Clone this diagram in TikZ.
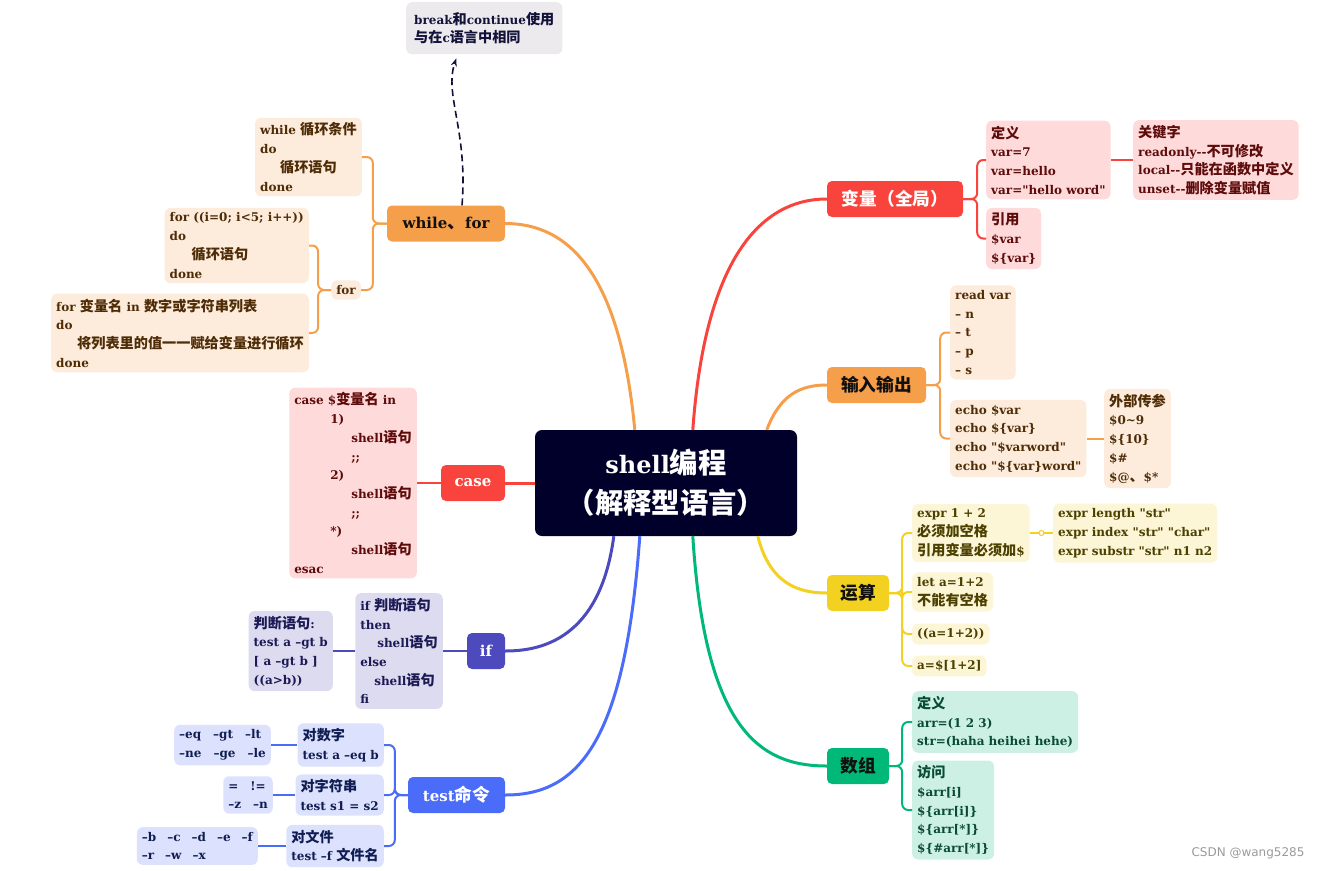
\documentclass[tikz,border=0pt]{standalone}
\usepackage{fontspec}
\setmainfont{DejaVu Serif}[Ligatures=TeXOff]
\newfontfamily\latinfont{DejaVu Serif}[Ligatures=TeXOff]
\newfontfamily\cjkfont{Noto Sans CJK SC}[Scale=1.18]
\newfontfamily\markfont{DejaVu Sans}
\usetikzlibrary{arrows.meta, calc}

% Chinese characters switch to the CJK font by themselves
\XeTeXinterchartokenstate=1
\newXeTeXintercharclass\cjkclass
\newcount\cjkcode
\cjkcode="4E00
\loop \XeTeXcharclass\cjkcode=\cjkclass \advance\cjkcode by 1 \ifnum\cjkcode<"A000 \repeat
\cjkcode="3000
\loop \XeTeXcharclass\cjkcode=\cjkclass \advance\cjkcode by 1 \ifnum\cjkcode<"3040 \repeat
\cjkcode="FF00
\loop \XeTeXcharclass\cjkcode=\cjkclass \advance\cjkcode by 1 \ifnum\cjkcode<"FFF0 \repeat
\XeTeXinterchartoks 0 \cjkclass = {\cjkfont}
\XeTeXinterchartoks 4095 \cjkclass = {\cjkfont}
\XeTeXinterchartoks \cjkclass 0 = {\latinfont}
\XeTeXinterchartoks \cjkclass 4095 = {\latinfont}

\definecolor{rootc}{HTML}{00002A}
\definecolor{orangec}{HTML}{F59F4A}
\definecolor{redc}{HTML}{F8443C}
\definecolor{purplec}{HTML}{4C4ABD}
\definecolor{bluec}{HTML}{4B6CF8}
\definecolor{yellowc}{HTML}{F2D120}
\definecolor{greenc}{HTML}{00B978}
\definecolor{orangel}{HTML}{FDEBDC}
\definecolor{redl}{HTML}{FFDADA}
\definecolor{purplel}{HTML}{DCDBF0}
\definecolor{bluel}{HTML}{DCE2FD}
\definecolor{yellowl}{HTML}{FCF5D6}
\definecolor{greenl}{HTML}{CCF1E4}
\definecolor{notel}{HTML}{ECEAED}
\definecolor{orangek}{HTML}{4E2C06}
\definecolor{redk}{HTML}{5E0B0B}
\definecolor{purplek}{HTML}{1C1A55}
\definecolor{bluek}{HTML}{101D52}
\definecolor{yellowk}{HTML}{4C4000}
\definecolor{greenk}{HTML}{0A4B35}
\definecolor{notek}{HTML}{12123A}
\definecolor{topick}{HTML}{111111}
\definecolor{markc}{HTML}{9A9A9A}

\tikzset{
  root/.style={fill=rootc, text=white, rounded corners=7, align=center,
    minimum width=262, minimum height=106, font=\fontsize{24}{40}\selectfont\bfseries},
  topic/.style={rounded corners=5, minimum height=36, inner xsep=0,
    font=\fontsize{15}{18}\selectfont\bfseries},
  leaf/.style={rounded corners=6, align=left, inner xsep=5, inner ysep=5,
    font=\fontsize{12}{18.7}\selectfont\bfseries},
  orangeleaf/.style={leaf, fill=orangel, text=orangek},
  redleaf/.style={leaf, fill=redl, text=redk},
  purpleleaf/.style={leaf, fill=purplel, text=purplek},
  blueleaf/.style={leaf, fill=bluel, text=bluek},
  yellowleaf/.style={leaf, fill=yellowl, text=yellowk},
  greenleaf/.style={leaf, fill=greenl, text=greenk},
  trunk/.style={line width=3},
  twig/.style={line width=2, rounded corners=6},
}

\begin{document}
\begin{tikzpicture}[x=1pt, y=-1pt]
\useasboundingbox (0,0) rectangle (1321,870);

% ---- centre
\node[root] (root) at (666,483) {shell编程\\（解释型语言）};

% ---- main topics
\node[topic, fill=orangec, text=topick, minimum width=118] (wfor) at (446,223.5) {while、for};
\node[topic, fill=redc, text=white, minimum width=64] (case) at (473,483) {case};
\node[topic, fill=purplec, text=white, minimum width=38] (if) at (486,651) {if};
\node[topic, fill=bluec, text=white, minimum width=97] (test) at (456.5,795) {test命令};
\node[topic, fill=redc, text=white, minimum width=136] (var) at (895,199) {变量（全局）};
\node[topic, fill=orangec, text=topick, minimum width=99] (io) at (876.5,385) {输入输出};
\node[topic, fill=yellowc, text=topick, minimum width=62] (calc) at (858,593) {运算};
\node[topic, fill=greenc, text=topick, minimum width=62] (arr) at (858,766) {数组};

\draw[trunk, orangec] ([xshift=100]root.north west) .. controls (620,275) and (570,223.5) .. (wfor.east);
\draw[trunk, redc] (root.west) -- (case.east);
\draw[trunk, purplec] ([xshift=79]root.south west) .. controls (600,640) and (540,651) .. (if.east);
\draw[trunk, bluec] ([xshift=105]root.south west) .. controls (625,740) and (580,795) .. (test.east);
\draw[trunk, redc] ([xshift=158]root.north west) .. controls (705,260) and (760,199) .. (var.west);
\draw[trunk, orangec] ([xshift=232]root.north west) .. controls (780,395) and (800,385) .. (io.west);
\draw[trunk, yellowc] ([xshift=223]root.south west) .. controls (770,585) and (800,593) .. (calc.west);
\draw[trunk, greenc] ([xshift=158]root.south west) .. controls (705,730) and (760,766) .. (arr.west);

% ============================================== while / for
\node[notek, fill=notel, rounded corners=6, align=left, anchor=north west, inner xsep=8,
      minimum height=52, font=\fontsize{12}{18.7}\selectfont\bfseries] (note) at (406,2)
  {break和continue使用\\与在c语言中相同};
\node[orangeleaf, anchor=east] (wwhile) at (362,157)
  {while 循环条件\\do\\\hspace*{20pt}循环语句\\done};
\node[orangeleaf, anchor=east] (wfork) at (361,290) {for};
\node[orangeleaf, anchor=east] (wfor1) at (309,245.5)
  {for ((i=0; i<5; i++))\\do\\\hspace*{22pt}循环语句\\done};
\node[orangeleaf, anchor=east] (wfor2) at (309,333)
  {for 变量名 in 数字或字符串列表\\do\\\hspace*{21pt}将列表里的值一一赋给变量进行循环\\done};
\foreach \c in {wwhile,wfork}
  \draw[twig, orangec] (wfor.west) -- ++(-14,0) |- (\c.east);
\foreach \c in {wfor1,wfor2}
  \draw[twig, orangec] (wfork.west) -- ++(-13,0) |- (\c.east);
\draw[notek, line width=1.6, dash pattern=on 7pt off 4pt, -{Stealth[length=8,width=6]}]
  ([xshift=16]wfor.north) .. controls (468,130) and (444,95) .. ([xshift=-28,yshift=-4]note.south);

% ============================================== case
\node[redleaf, anchor=east] (casebox) at (417,483)
  {case \$变量名 in\\\hspace*{36pt}1)\\\hspace*{57pt}shell语句\\\hspace*{57pt};;\\
   \hspace*{36pt}2)\\\hspace*{57pt}shell语句\\\hspace*{57pt};;\\
   \hspace*{36pt}*)\\\hspace*{57pt}shell语句\\esac};
\draw[twig, redc] (case.west) -- (casebox.east);

% ============================================== if
\node[purpleleaf, anchor=east] (ifbox) at (443,651)
  {if 判断语句\\then\\\hspace*{17pt}shell语句\\else\\\hspace*{14pt}shell语句\\fi};
\node[purpleleaf, anchor=east] (judge) at (333,651)
  {判断语句:\\test a \textendash gt b\\{[} a \textendash gt b ]\\((a>b))};
\draw[twig, purplec] (if.west) -- (ifbox.east);
\draw[twig, purplec] (ifbox.west) -- (judge.east);

% ============================================== test
\node[blueleaf, anchor=east] (tnum) at (384,745) {对数字\\test a \textendash eq b};
\node[blueleaf, anchor=east] (tstr) at (384,795) {对字符串\\test s1 = s2};
\node[blueleaf, anchor=east] (tfile) at (384,846) {对文件\\test \textendash f 文件名};
\node[blueleaf, anchor=east] (tnumop) at (271,745)
  {\textendash eq\hspace{12pt}\textendash gt\hspace{12pt}\textendash lt\\
   \textendash ne\hspace{12pt}\textendash ge\hspace{12pt}\textendash le};
\node[blueleaf, anchor=east] (tstrop) at (273,795) {=\hspace{12pt}!=\\\textendash z\hspace{12pt}\textendash n};
\node[blueleaf, anchor=east] (tfileop) at (258,846)
  {\textendash b\hspace{11pt}\textendash c\hspace{11pt}\textendash d\hspace{11pt}\textendash e\hspace{11pt}\textendash f\\
   \textendash r\hspace{11pt}\textendash w\hspace{11pt}\textendash x};
\foreach \c in {tnum,tstr,tfile}
  \draw[twig, bluec] (test.west) -- ++(-13,0) |- (\c.east);
\foreach \a/\b in {tnum/tnumop, tstr/tstrop, tfile/tfileop}
  \draw[twig, bluec] (\a.west) -- (\b.east);

% ============================================== variables
\node[redleaf, anchor=west] (vdef) at (986,160) {定义\\var=7\\var=hello\\var="hello word"};
\node[redleaf, anchor=west] (vref) at (986,238.5) {引用\\\$var\\\$\{var\}};
\node[redleaf, anchor=west] (vkey) at (1133,160)
  {关键字\\readonly-{}-不可修改\\local-{}-只能在函数中定义\\unset-{}-删除变量赋值};
\foreach \c in {vdef,vref}
  \draw[twig, redc] (var.east) -- ++(14,0) |- (\c.west);
\draw[twig, redc] (vdef.east) -- (vkey.west);

% ============================================== input / output
\node[orangeleaf, anchor=west] (iread) at (950,332.5)
  {read var\\\textendash\ n\\\textendash\ t\\\textendash\ p\\\textendash\ s};
\node[orangeleaf, anchor=west] (iecho) at (950,438.5)
  {echo \$var\\echo \$\{var\}\\echo "\$varword"\\echo "\$\{var\}word"};
\node[orangeleaf, anchor=west] (iext) at (1104,438.5)
  {外部传参\\\$0\textasciitilde 9\\\$\{10\}\\\$\#\\\$@、\$*};
\foreach \c in {iread,iecho}
  \draw[twig, orangec] (io.east) -- ++(14,0) |- (\c.west);
\draw[twig, orangec] (iecho.east) -- (iext.west);

% ============================================== arithmetic
\node[yellowleaf, anchor=west] (cexpr) at (912,533) {expr 1 + 2\\必须加空格\\引用变量必须加\$};
\node[yellowleaf, anchor=west] (clet) at (912,592) {let a=1+2\\不能有空格};
\node[yellowleaf, anchor=west] (cpar) at (912,634) {((a=1+2))};
\node[yellowleaf, anchor=west] (cbr) at (912,666) {a=\$[1+2]};
\node[yellowleaf, anchor=west] (cmore) at (1053,533)
  {expr length "str"\\expr index "str" "char"\\expr substr "str" n1 n2};
\foreach \c in {cexpr,clet,cpar,cbr}
  \draw[twig, yellowc] (calc.east) -- ++(13,0) |- (\c.west);
\draw[twig, yellowc] (cexpr.east) -- (cmore.west);
\node[circle, draw=yellowc, fill=white, line width=1, inner sep=0, minimum size=5] (knob)
  at ($(cexpr.east)!0.5!(cmore.west)$) {};

% ============================================== arrays
\node[greenleaf, anchor=west] (adef) at (912,722) {定义\\arr=(1 2 3)\\str=(haha heihei hehe)};
\node[greenleaf, anchor=west] (aget) at (912,810)
  {访问\\\$arr[i]\\\$\{arr[i]\}\\\$\{arr[*]\}\\\$\{\#arr[*]\}};
\foreach \c in {adef,aget}
  \draw[twig, greenc] (arr.east) -- ++(13,0) |- (\c.west);

\node[text=markc, font=\markfont\fontsize{12}{14}\selectfont] (mark) at (1248,853) {CSDN @wang5285};

\end{tikzpicture}
\end{document}
